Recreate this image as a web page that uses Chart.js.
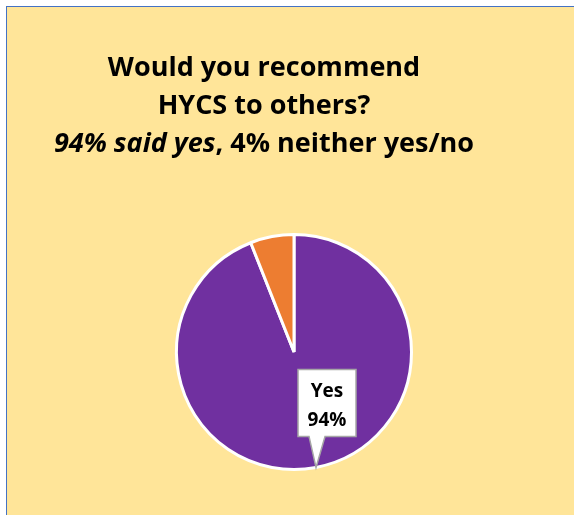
<!DOCTYPE html>
<html>
<head>
<meta charset="utf-8">
<script src="https://cdn.jsdelivr.net/npm/chart.js@4.4.4/dist/chart.umd.js"></script>
<style>
    html, body {
        margin: 0;
        padding: 0;
        background: #ffffff;
        overflow: hidden;
    }
    #frame {
        position: absolute;
        left: 6px;
        top: 6px;
        width: 568px;
        height: 509px;
        border-left: 1.5px solid #4472C4;
        border-top: 1.5px solid #4472C4;
        background: #FFE599;
    }
    #chart {
        display: block;
    }
</style>
</head>
<body>
<div id="frame"><canvas id="chart" width="567" height="508"></canvas></div>
<script>
const categories = ["Yes", "Neither yes/no"];
const answerShares = [94, 6];
const sliceColors = ["#7030A0", "#ED7D31"];
const titleLines = ["Would you recommend", "HYCS to others?"];
const subtitleItalic = "94% said yes";
const subtitleRest = ", 4% neither yes/no";

const fontFamily = "'Open Sans', 'Noto Sans', sans-serif";

// title block drawn by hand, third line mixes italic and upright text
const titlePlugin = {
    id: "hycsTitle",
    afterDraw(chart) {
        const ctx = chart.ctx;
        const centerX = 257;
        ctx.save();
        ctx.fillStyle = "#000000";
        ctx.textBaseline = "alphabetic";
        ctx.textAlign = "center";
        ctx.font = `bold 27px ${fontFamily}`;
        ctx.fillText(titleLines[0], centerX, 69);
        ctx.fillText(titleLines[1], centerX, 107);

        const italicFont = `italic bold 27px ${fontFamily}`;
        const plainFont = `bold 27px ${fontFamily}`;
        ctx.font = italicFont;
        const w1 = ctx.measureText(subtitleItalic).width;
        ctx.font = plainFont;
        const w2 = ctx.measureText(subtitleRest).width;
        const startX = centerX - (w1 + w2) / 2;
        ctx.textAlign = "left";
        ctx.font = italicFont;
        ctx.fillText(subtitleItalic, startX, 145);
        ctx.font = plainFont;
        ctx.fillText(subtitleRest, startX + w1, 145);
        ctx.restore();
    }
};

// callout label for the "Yes" slice
const calloutPlugin = {
    id: "yesCallout",
    afterDatasetsDraw(chart) {
        const meta = chart.getDatasetMeta(0);
        const arc = meta.data[0];
        if (!arc) {
            return;
        }
        const { x, y, startAngle, endAngle, outerRadius } = arc.getProps(["x", "y", "startAngle", "endAngle", "outerRadius"], true);
        const mid = (startAngle + endAngle) / 2;
        const tipX = x + Math.cos(mid) * outerRadius;
        const tipY = y + Math.sin(mid) * outerRadius;

        const boxW = 58;
        const boxH = 67;
        const boxX = tipX + 11 - boxW / 2;
        const boxBottom = tipY - 31;
        const boxY = boxBottom - boxH;

        const ctx = chart.ctx;
        ctx.save();
        ctx.beginPath();
        ctx.moveTo(boxX, boxY);
        ctx.lineTo(boxX + boxW, boxY);
        ctx.lineTo(boxX + boxW, boxBottom);
        ctx.lineTo(tipX + 9, boxBottom);
        ctx.lineTo(tipX, tipY);
        ctx.lineTo(tipX - 7, boxBottom);
        ctx.lineTo(boxX, boxBottom);
        ctx.closePath();
        ctx.fillStyle = "#ffffff";
        ctx.fill();
        ctx.strokeStyle = "#A6A6A6";
        ctx.lineWidth = 1.5;
        ctx.stroke();

        const value = chart.data.datasets[0].data[0];
        ctx.fillStyle = "#000000";
        ctx.textAlign = "center";
        ctx.textBaseline = "alphabetic";
        ctx.font = `bold 19px ${fontFamily}`;
        ctx.fillText(chart.data.labels[0], boxX + boxW / 2, boxY + 28);
        ctx.fillText(`${value}%`, boxX + boxW / 2, boxY + 57);
        ctx.restore();
    }
};

new Chart(document.getElementById("chart"), {
    type: "pie",
    data: {
        labels: categories,
        datasets: [
            {
                data: answerShares,
                backgroundColor: sliceColors,
                borderColor: "#ffffff",
                borderWidth: 3
            }
        ]
    },
    options: {
        responsive: false,
        animation: false,
        layout: {
            padding: { left: 168, right: 161, top: 226, bottom: 44 }
        },
        plugins: {
            legend: { display: false },
            tooltip: { enabled: false },
            title: { display: false }
        }
    },
    plugins: [titlePlugin, calloutPlugin]
});
</script>
</body>
</html>
